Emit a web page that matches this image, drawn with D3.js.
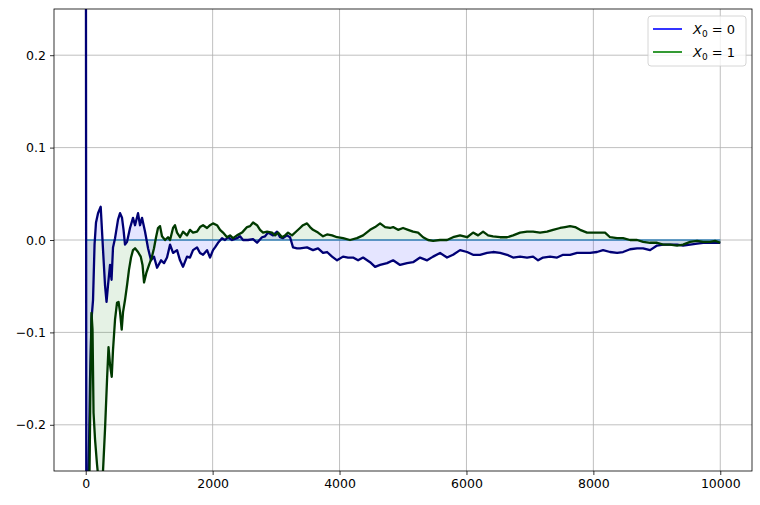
<!DOCTYPE html>
<html>
<head>
<meta charset="utf-8">
<script src="https://cdn.jsdelivr.net/npm/d3@7"></script>
<style>
  body { margin: 0; background: #fff; }
  svg { font-family: "DejaVu Sans", sans-serif; }
</style>
</head>
<body>
<div id="container"></div>
<script>
// running deviation for two starting states
const blueSteps = [0, 13, 44, 68, 91, 115, 139, 162, 194, 236, 273, 304, 328, 351, 383, 407, 430, 462, 509, 541, 572, 596, 619, 651, 698, 745, 777, 824, 856, 887, 935, 982, 1029, 1076, 1124, 1187, 1234, 1281, 1329, 1376, 1439, 1486, 1533, 1596, 1643, 1691, 1754, 1801, 1849, 1912, 1959, 2006, 2038, 2085, 2148, 2195, 2243, 2306, 2384, 2432, 2479, 2558, 2637, 2700, 2778, 2826, 2873, 2952, 3015, 3062, 3109, 3172, 3220, 3267, 3330, 3377, 3487, 3582, 3661, 3740, 3803, 3882, 3961, 4055, 4134, 4213, 4292, 4371, 4481, 4560, 4639, 4749, 4844, 4954, 5064, 5159, 5269, 5380, 5474, 5584, 5694, 5789, 5899, 6010, 6104, 6214, 6325, 6419, 6530, 6640, 6735, 6845, 6955, 7050, 7129, 7207, 7318, 7428, 7523, 7633, 7743, 7838, 7948, 8058, 8153, 8263, 8374, 8468, 8579, 8689, 8784, 8894, 9004, 9099, 9209, 9320, 9414, 9525, 9635, 9730, 9840, 10000];
const blueValues = [0.6, -0.6, -0.26, -0.151, -0.086, -0.065, -0.005, 0.019, 0.029, 0.036, -0.011, -0.049, -0.067, -0.049, -0.027, -0.043, -0.008, 0.002, 0.022, 0.029, 0.024, 0.011, -0.005, -0.002, 0.013, 0.024, 0.016, 0.029, 0.016, 0.024, 0.009, -0.009, -0.022, -0.018, -0.030, -0.022, -0.025, -0.019, -0.005, -0.014, -0.011, -0.022, -0.029, -0.018, -0.019, -0.011, -0.008, -0.014, -0.016, -0.011, -0.019, -0.011, -0.008, -0.003, 0.002, 0.000, 0.003, 0.000, 0.002, 0.004, 0.000, 0.000, 0.001, -0.003, 0.003, 0.004, 0.008, 0.005, 0.009, 0.003, 0.002, 0.005, 0.003, -0.008, -0.009, -0.009, -0.008, -0.011, -0.009, -0.014, -0.013, -0.018, -0.022, -0.018, -0.019, -0.019, -0.022, -0.019, -0.024, -0.029, -0.027, -0.025, -0.022, -0.027, -0.025, -0.024, -0.019, -0.022, -0.018, -0.014, -0.019, -0.016, -0.011, -0.013, -0.016, -0.016, -0.014, -0.013, -0.014, -0.016, -0.019, -0.018, -0.019, -0.018, -0.022, -0.019, -0.018, -0.019, -0.016, -0.016, -0.014, -0.014, -0.014, -0.013, -0.011, -0.013, -0.014, -0.013, -0.010, -0.009, -0.009, -0.011, -0.006, -0.005, -0.005, -0.005, -0.006, -0.005, -0.004, -0.003, -0.003, -0.003];

const greenSteps = [0, 36, 60, 76, 91, 107, 123, 147, 178, 210, 241, 273, 304, 336, 359, 383, 410, 430, 462, 493, 517, 541, 567, 588, 619, 651, 682, 714, 745, 777, 824, 867, 895, 919, 958, 998, 1040, 1076, 1108, 1139, 1171, 1202, 1250, 1297, 1329, 1376, 1407, 1439, 1486, 1533, 1596, 1643, 1691, 1754, 1801, 1849, 1912, 1959, 2006, 2069, 2117, 2164, 2227, 2274, 2321, 2384, 2463, 2542, 2590, 2637, 2700, 2747, 2795, 2858, 2936, 2984, 3031, 3094, 3141, 3188, 3251, 3330, 3377, 3424, 3487, 3535, 3582, 3661, 3740, 3803, 3882, 3961, 4055, 4165, 4275, 4371, 4481, 4560, 4639, 4718, 4796, 4844, 4922, 5001, 5080, 5159, 5238, 5317, 5396, 5474, 5584, 5694, 5789, 5899, 6010, 6104, 6183, 6262, 6341, 6419, 6530, 6640, 6735, 6845, 6955, 7050, 7160, 7270, 7365, 7475, 7554, 7633, 7712, 7791, 7901, 7995, 8106, 8184, 8263, 8374, 8468, 8579, 8689, 8784, 8894, 9004, 9099, 9209, 9320, 9414, 9525, 9635, 9730, 9840, 9919, 10000];
const greenValues = [-0.6, -0.27, -0.249, -0.151, -0.079, -0.097, -0.187, -0.216, -0.243, -0.265, -0.27, -0.249, -0.205, -0.151, -0.116, -0.135, -0.148, -0.119, -0.086, -0.068, -0.067, -0.078, -0.097, -0.078, -0.065, -0.049, -0.032, -0.019, -0.011, -0.009, -0.013, -0.018, -0.027, -0.046, -0.035, -0.027, -0.019, -0.009, 0.003, 0.013, 0.015, 0.004, 0.000, 0.003, 0.000, 0.013, 0.016, 0.008, 0.003, 0.009, 0.005, 0.011, 0.008, 0.009, 0.014, 0.016, 0.013, 0.016, 0.018, 0.016, 0.011, 0.008, 0.003, 0.005, 0.002, 0.005, 0.008, 0.014, 0.015, 0.019, 0.016, 0.011, 0.008, 0.009, 0.008, 0.005, 0.008, 0.003, 0.005, 0.008, 0.005, 0.010, 0.013, 0.016, 0.018, 0.014, 0.011, 0.008, 0.004, 0.006, 0.005, 0.003, 0.002, 0.000, 0.002, 0.005, 0.011, 0.014, 0.018, 0.014, 0.013, 0.014, 0.011, 0.013, 0.011, 0.009, 0.008, 0.003, 0.000, -0.001, 0.000, 0.000, 0.003, 0.005, 0.003, 0.008, 0.005, 0.009, 0.005, 0.004, 0.003, 0.003, 0.005, 0.008, 0.009, 0.009, 0.008, 0.009, 0.011, 0.013, 0.014, 0.015, 0.014, 0.011, 0.008, 0.008, 0.008, 0.008, 0.003, 0.002, 0.002, 0.000, 0.000, -0.002, -0.003, -0.003, -0.005, -0.005, -0.006, -0.005, -0.002, -0.001, -0.002, -0.002, -0.001, -0.003];

const xTicks = [0, 2000, 4000, 6000, 8000, 10000];
const yTicks = [-0.2, -0.1, 0.0, 0.1, 0.2];
const legendLabels = ["0", "1"];

const width = 760;
const height = 505;
const margin = { top: 9, right: 8, bottom: 34, left: 54 };

const svg = d3.select("#container")
  .append("svg")
  .attr("width", width)
  .attr("height", height);

const x = d3.scaleLinear().domain([-500, 10500]).range([margin.left, width - margin.right]);
const y = d3.scaleLinear().domain([-0.25, 0.25]).range([height - margin.bottom, margin.top]);

svg.append("clipPath").attr("id", "plot")
  .append("rect")
  .attr("x", margin.left).attr("y", margin.top)
  .attr("width", width - margin.left - margin.right)
  .attr("height", height - margin.top - margin.bottom);

// grid
const grid = svg.append("g").attr("stroke", "#b0b0b0").attr("stroke-width", 0.8);
grid.selectAll(".gx").data(xTicks).join("line")
  .attr("x1", d => x(d)).attr("x2", d => x(d))
  .attr("y1", margin.top).attr("y2", height - margin.bottom);
grid.selectAll(".gy").data(yTicks).join("line")
  .attr("x1", margin.left).attr("x2", width - margin.right)
  .attr("y1", d => y(d)).attr("y2", d => y(d));

const series = [
  { steps: blueSteps, values: blueValues, line: "#000075", fill: "#0000ff" },
  { steps: greenSteps, values: greenValues, line: "#003a00", fill: "#008000" }
];

const plot = svg.append("g").attr("clip-path", "url(#plot)");

const area = d3.area()
  .x(d => x(d[0]))
  .y0(y(0))
  .y1(d => y(d[1]));

const line = d3.line()
  .x(d => x(d[0]))
  .y(d => y(d[1]));

series.forEach(s => {
  const pts = s.steps.map((st, i) => [st, s.values[i]]);
  plot.append("path")
    .attr("d", area(pts))
    .attr("fill", s.fill)
    .attr("fill-opacity", 0.1);
});

// zero reference line
plot.append("line")
  .attr("x1", x(0)).attr("x2", x(10000))
  .attr("y1", y(0)).attr("y2", y(0))
  .attr("stroke", "#1f77b4")
  .attr("stroke-opacity", 0.65)
  .attr("stroke-width", 2);

series.forEach(s => {
  const pts = s.steps.map((st, i) => [st, s.values[i]]);
  plot.append("path")
    .attr("d", line(pts))
    .attr("fill", "none")
    .attr("stroke", s.line)
    .attr("stroke-width", 2.3)
    .attr("stroke-linejoin", "round");
});

// axes
const xAxis = d3.axisBottom(x).tickValues(xTicks).tickSize(4).tickPadding(4).tickFormat(d3.format("d"));
const yAxis = d3.axisLeft(y).tickValues(yTicks).tickSize(4).tickPadding(4)
  .tickFormat(d => d3.format(".1f")(d).replace("-", "\u2212"));

const gx = svg.append("g").attr("transform", `translate(0,${height - margin.bottom})`).call(xAxis);
const gy = svg.append("g").attr("transform", `translate(${margin.left},0)`).call(yAxis);
[gx, gy].forEach(g => {
  g.select(".domain").remove();
  g.selectAll("line").attr("stroke", "#000").attr("stroke-width", 0.8);
  g.selectAll("text").attr("font-size", 12.5).attr("fill", "#000").attr("font-family", "DejaVu Sans");
});

svg.append("rect")
  .attr("x", margin.left).attr("y", margin.top)
  .attr("width", width - margin.left - margin.right)
  .attr("height", height - margin.top - margin.bottom)
  .attr("fill", "none").attr("stroke", "#000").attr("stroke-width", 0.8);

// legend
const legend = svg.append("g");
legend.append("rect")
  .attr("x", 648).attr("y", 16).attr("width", 98).attr("height", 50)
  .attr("rx", 3)
  .attr("fill", "#fff").attr("fill-opacity", 0.8)
  .attr("stroke", "#cccccc").attr("stroke-width", 0.8);

const legendColors = ["#0000ff", "#008000"];
legendLabels.forEach((lab, i) => {
  const ly = 29 + i * 23;
  legend.append("line")
    .attr("x1", 653).attr("x2", 682)
    .attr("y1", ly).attr("y2", ly)
    .attr("stroke", legendColors[i]).attr("stroke-width", 1.6);
  const t = legend.append("text")
    .attr("x", 693).attr("y", ly + 4.5)
    .attr("font-size", 13).attr("font-family", "DejaVu Sans");
  t.append("tspan").attr("font-style", "italic").text("X");
  t.append("tspan").attr("font-size", 9).attr("dy", 3).text("0");
  t.append("tspan").attr("dy", -3).text(" = " + lab);
});
</script>
</body>
</html>
